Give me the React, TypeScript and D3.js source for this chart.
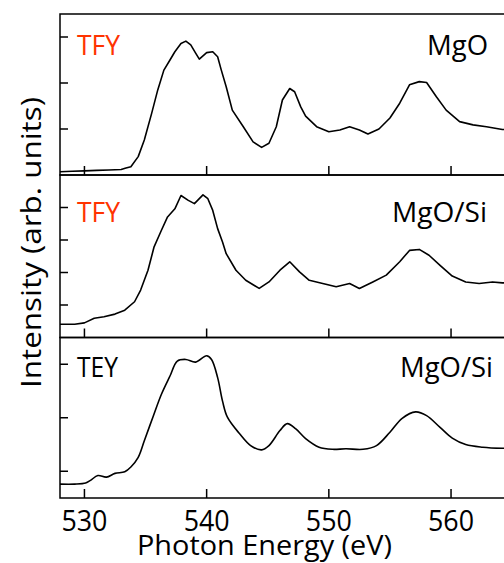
import React from "react";
import * as d3 from "d3";

// ---- data ----
const xTicks = [530, 540, 550, 560];

const tfyMgoE = [528.0, 529.0, 530.0, 531.0, 532.0, 533.0, 533.4, 533.8, 534.4, 534.9, 535.5, 536.0, 536.5, 537.0, 537.4, 537.9, 538.3, 538.7, 539.1, 539.4, 540.0, 540.5, 540.9, 541.2, 541.6, 542.1, 543.0, 543.8, 544.5, 545.1, 545.7, 546.2, 546.8, 547.2, 547.7, 548.1, 549.0, 550.0, 550.9, 551.7, 552.5, 553.2, 554.1, 555.0, 555.8, 556.6, 557.4, 558.0, 558.8, 559.6, 560.7, 561.8, 562.9, 564.2, 565.0];
const tfyMgoI = [0.07, 0.08, 0.09, 0.10, 0.11, 0.12, 0.15, 0.18, 0.40, 0.76, 1.34, 1.85, 2.28, 2.50, 2.68, 2.86, 2.91, 2.83, 2.65, 2.52, 2.66, 2.68, 2.57, 2.28, 1.92, 1.41, 1.05, 0.72, 0.60, 0.69, 1.05, 1.63, 1.88, 1.81, 1.48, 1.28, 1.05, 0.94, 0.98, 1.05, 0.98, 0.89, 1.00, 1.24, 1.56, 1.96, 2.03, 2.01, 1.70, 1.41, 1.16, 1.09, 1.05, 0.99, 0.99];

const tfySiE = [528.0, 529.2, 530.0, 530.8, 531.6, 532.5, 533.3, 534.1, 534.6, 535.2, 535.7, 536.3, 536.8, 537.4, 537.9, 538.5, 539.0, 539.7, 540.1, 540.5, 540.9, 541.3, 541.6, 542.4, 543.2, 544.3, 545.1, 546.0, 546.8, 547.6, 548.4, 549.5, 550.6, 551.7, 552.5, 553.6, 554.7, 555.8, 556.6, 557.4, 558.2, 559.1, 560.1, 561.2, 562.3, 563.4, 564.2, 565.0];
const tfySiI = [0.41, 0.41, 0.45, 0.59, 0.64, 0.72, 0.84, 1.10, 1.46, 2.07, 2.79, 3.30, 3.71, 3.96, 4.37, 4.22, 4.12, 4.39, 4.27, 3.91, 3.35, 2.94, 2.58, 2.07, 1.76, 1.51, 1.71, 2.07, 2.33, 2.02, 1.76, 1.66, 1.56, 1.66, 1.51, 1.71, 1.92, 2.33, 2.68, 2.71, 2.53, 2.22, 1.89, 1.71, 1.66, 1.71, 1.68, 1.68];

const teySiE = [528.0, 529.2, 530.1, 530.5, 531.1, 531.8, 532.5, 533.3, 533.8, 534.4, 534.9, 535.6, 536.3, 537.0, 537.6, 538.3, 539.1, 540.0, 540.4, 540.9, 541.3, 541.7, 542.7, 543.6, 544.5, 545.1, 546.0, 546.6, 547.3, 548.1, 549.2, 550.3, 551.4, 552.8, 553.9, 555.0, 556.0, 557.1, 558.0, 559.1, 560.1, 561.2, 562.6, 564.2, 565.0];
const teySiI = [0.76, 0.76, 0.78, 0.83, 0.92, 0.89, 0.96, 0.99, 1.08, 1.26, 1.57, 2.01, 2.44, 2.78, 3.06, 3.09, 3.04, 3.16, 3.09, 2.75, 2.31, 2.01, 1.70, 1.48, 1.40, 1.48, 1.76, 1.89, 1.79, 1.61, 1.45, 1.41, 1.42, 1.41, 1.48, 1.73, 1.99, 2.11, 2.04, 1.82, 1.62, 1.50, 1.45, 1.43, 1.43];

const panelModes = ["TFY", "TFY", "TEY"];
const panelSamples = ["MgO", "MgO/Si", "MgO/Si"];
const panelDomains: [number, number][] = [[0, 3.5], [0, 5], [0.5, 3.5]];
const panelYTicks = [[1, 2, 3], [1, 2, 3, 4], [1, 2, 3]];

const FONT = "'Open Sans', sans-serif";

export default function App() {
  const W = 504, H = 563;
  const left = 60;
  const x = d3.scaleLinear().domain([528, 565]).range([left, left + 37 * 12.22]);
  const bounds = [[14, 175], [175, 337.5], [337.5, 498]];
  const series = [
    { e: tfyMgoE, v: tfyMgoI, smooth: false },
    { e: tfySiE, v: tfySiI, smooth: false },
    { e: teySiE, v: teySiI, smooth: true },
  ];
  const right = x(565);
  const labelY = [55, 221.7, 376.7];
  const modeLen = [43, 43, 41];
  const sampleX = [488, 487, 493];
  const sampleLen = [61, 95, 93];

  return (
    <svg width={W} height={H} style={{ position: "absolute", left: 0, top: 0, display: "block" }} fontFamily={FONT}>
      <rect width={W} height={H} fill="#fff" />
      {series.map((s, i) => {
        const [top, bot] = bounds[i];
        const y = d3.scaleLinear().domain(panelDomains[i]).range([bot, top]);
        const pts: [number, number][] = s.e.map((e, k) => [e, s.v[k]]);
        const line = d3.line<[number, number]>()
          .x((d) => x(d[0]))
          .y((d) => y(d[1]))
          .curve(s.smooth ? d3.curveCatmullRom.alpha(0.5) : d3.curveLinear);
        return (
          <g key={i}>
            <rect x={left} y={top} width={right - left} height={bot - top} fill="none" stroke="#000" strokeWidth={1.5} />
            {xTicks.map((t) => (
              <line key={t} x1={x(t)} x2={x(t)} y1={bot} y2={bot - 9} stroke="#000" strokeWidth={1.5} />
            ))}
            {panelYTicks[i].map((t) => (
              <line key={t} x1={left} x2={left + 8} y1={y(t)} y2={y(t)} stroke="#000" strokeWidth={1.5} />
            ))}
            <path d={line(pts) || ""} fill="none" stroke="#000" strokeWidth={1.6} strokeLinejoin="round" />
            <text x={77} y={labelY[i]} fontSize={28} textLength={modeLen[i]} lengthAdjust="spacingAndGlyphs"
              fill={panelModes[i] === "TFY" ? "#ff3300" : "#000"}>
              {panelModes[i]}
            </text>
            <text x={sampleX[i] - sampleLen[i]} y={labelY[i]} fontSize={28} textLength={sampleLen[i]} lengthAdjust="spacingAndGlyphs" fill="#000">
              {panelSamples[i]}
            </text>
          </g>
        );
      })}
      {xTicks.map((t) => (
        <text key={t} x={x(t) - 23} y={531} fontSize={29} textLength={46} lengthAdjust="spacingAndGlyphs" fill="#000">{t}</text>
      ))}
      <text x={137} y={555} fontSize={27} textLength={255} lengthAdjust="spacingAndGlyphs" fill="#000">Photon Energy (eV)</text>
      <text transform="translate(41,388) rotate(-90)" fontSize={28} textLength={291} lengthAdjust="spacingAndGlyphs" fill="#000">Intensity (arb. units)</text>
    </svg>
  );
}
